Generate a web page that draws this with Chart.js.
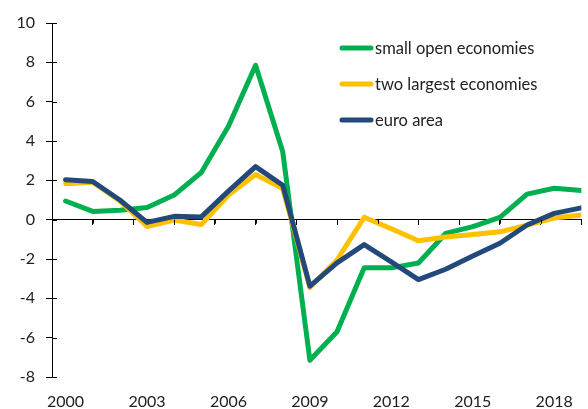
<!DOCTYPE html>
<html>
<head>
<meta charset="utf-8">
<script src="https://cdn.jsdelivr.net/npm/chart.js@4"></script>
<style>
  html, body { margin: 0; padding: 0; background: #fff; }
  #wrap { width: 588px; height: 409px; }
</style>
</head>
<body>
<div id="wrap"><canvas id="myChart"></canvas></div>
<script>
const years = [2000, 2001, 2002, 2003, 2004, 2005, 2006, 2007, 2008, 2009,
               2010, 2011, 2012, 2013, 2014, 2015, 2016, 2017, 2018, 2019]
const smallOpen = [0.95, 0.42, 0.48, 0.62, 1.25, 2.4, 4.75, 7.85, 3.45, -7.15,
                   -5.7, -2.45, -2.45, -2.2, -0.7, -0.35, 0.12, 1.3, 1.6, 1.48]
const twoLargest = [1.83, 1.9, 0.95, -0.35, -0.02, -0.25, 1.25, 2.3, 1.58, -3.45,
                    -2.05, 0.12, -0.46, -1.07, -0.88, -0.75, -0.62, -0.28, 0.08, 0.24]
const euroArea = [2.03, 1.94, 1.0, -0.14, 0.17, 0.14, 1.45, 2.7, 1.75, -3.38,
                  -2.2, -1.27, -2.15, -3.05, -2.52, -1.85, -1.2, -0.27, 0.32, 0.6]
const seriesNames = ["small open economies", "two largest economies", "euro area"]
const xLabelTicks = [2000, 2003, 2006, 2009, 2012, 2015, 2018]
const xMarkTicks = [1999.5, 2001, 2002.5, 2004, 2005.5, 2007, 2008.5, 2010,
                    2011.5, 2013, 2014.5, 2016, 2017.5, 2019]

const green = "#00B050"
const yellow = "#FFC000"
const blue = "#23497B"
const textColor = "#222"
const fontFamily = "Lato, 'Open Sans', sans-serif"

function toPoints(values) {
    return years.map((yr, i) => ({ x: yr, y: values[i] }))
}

function makeDataset(label, values, color, order) {
    return {
        label: label,
        data: toPoints(values),
        borderColor: color,
        backgroundColor: color,
        borderWidth: 5,
        pointRadius: 0,
        tension: 0,
        borderJoinStyle: "round",
        borderCapStyle: "round",
        order: order
    }
}

// legend drawn by hand so it sits inside the plot like the original
const legendPlugin = {
    id: "innerLegend",
    afterDraw(chart) {
        const ctx = chart.ctx
        const rows = [48, 84, 120]
        ctx.save()
        ctx.font = "16.5px " + fontFamily
        ctx.textBaseline = "middle"
        ctx.textAlign = "left"
        chart.data.datasets.forEach((ds, i) => {
            ctx.strokeStyle = ds.borderColor
            ctx.lineWidth = 5
            ctx.lineCap = "round"
            ctx.beginPath()
            ctx.moveTo(342, rows[i])
            ctx.lineTo(371, rows[i])
            ctx.stroke()
            ctx.fillStyle = textColor
            ctx.fillText(ds.label, 375, rows[i] + 1)
        })
        ctx.restore()
    }
}

// small tick marks on the inner side of the axes too, like the original
const crossTicks = {
    id: "crossTicks",
    afterDraw(chart) {
        const ctx = chart.ctx
        const x2 = chart.scales.x2
        const y = chart.scales.y
        const zero = y.getPixelForValue(0)
        ctx.save()
        ctx.strokeStyle = "#000"
        ctx.lineWidth = 1
        ctx.beginPath()
        xMarkTicks.forEach(v => {
            const px = Math.round(x2.getPixelForValue(v)) + 0.5
            ctx.moveTo(px, zero)
            ctx.lineTo(px, zero + 4)
        })
        y.ticks.forEach(t => {
            const py = Math.round(y.getPixelForValue(t.value)) + 0.5
            ctx.moveTo(y.right, py)
            ctx.lineTo(y.right + 5, py)
        })
        ctx.stroke()
        ctx.restore()
    }
}

const config = {
    type: "line",
    data: {
        datasets: [
            makeDataset(seriesNames[0], smallOpen, green, 3),
            makeDataset(seriesNames[1], twoLargest, yellow, 2),
            makeDataset(seriesNames[2], euroArea, blue, 1)
        ]
    },
    options: {
        responsive: true,
        maintainAspectRatio: false,
        animation: false,
        layout: { padding: { top: 23, right: 5, left: 0, bottom: 0 } },
        plugins: {
            legend: { display: false },
            tooltip: { enabled: false }
        },
        scales: {
            x: {
                type: "linear",
                position: "bottom",
                min: 1999.5,
                max: 2019,
                grid: { display: false, drawTicks: false },
                border: { display: false },
                afterBuildTicks: (scale) => {
                    scale.ticks = xLabelTicks.map(v => ({ value: v }))
                },
                afterFit: (scale) => { scale.height = 32 },
                ticks: {
                    color: textColor,
                    font: { family: fontFamily, size: 16 },
                    padding: 15,
                    maxRotation: 0,
                    autoSkip: false,
                    callback: (v) => String(v)
                }
            },
            x2: {
                type: "linear",
                position: { y: 0 },
                min: 1999.5,
                max: 2019,
                afterBuildTicks: (scale) => {
                    scale.ticks = xMarkTicks.map(v => ({ value: v }))
                },
                grid: { drawOnChartArea: false, drawTicks: true, tickLength: 5, color: "#000" },
                border: { display: true, color: "#000", width: 1 },
                ticks: { display: false }
            },
            y: {
                min: -8,
                max: 10,
                afterFit: (scale) => { scale.width = 52 },
                ticks: {
                    stepSize: 2,
                    color: textColor,
                    font: { family: fontFamily, size: 16 },
                    padding: 11
                },
                grid: { drawOnChartArea: false, drawTicks: true, tickLength: 6, color: "#000" },
                border: { display: true, color: "#000", width: 1 }
            }
        }
    },
    plugins: [legendPlugin, crossTicks]
}

const chartDOM = document.getElementById("myChart")
const myChart = new Chart(chartDOM, config)
</script>
</body>
</html>
